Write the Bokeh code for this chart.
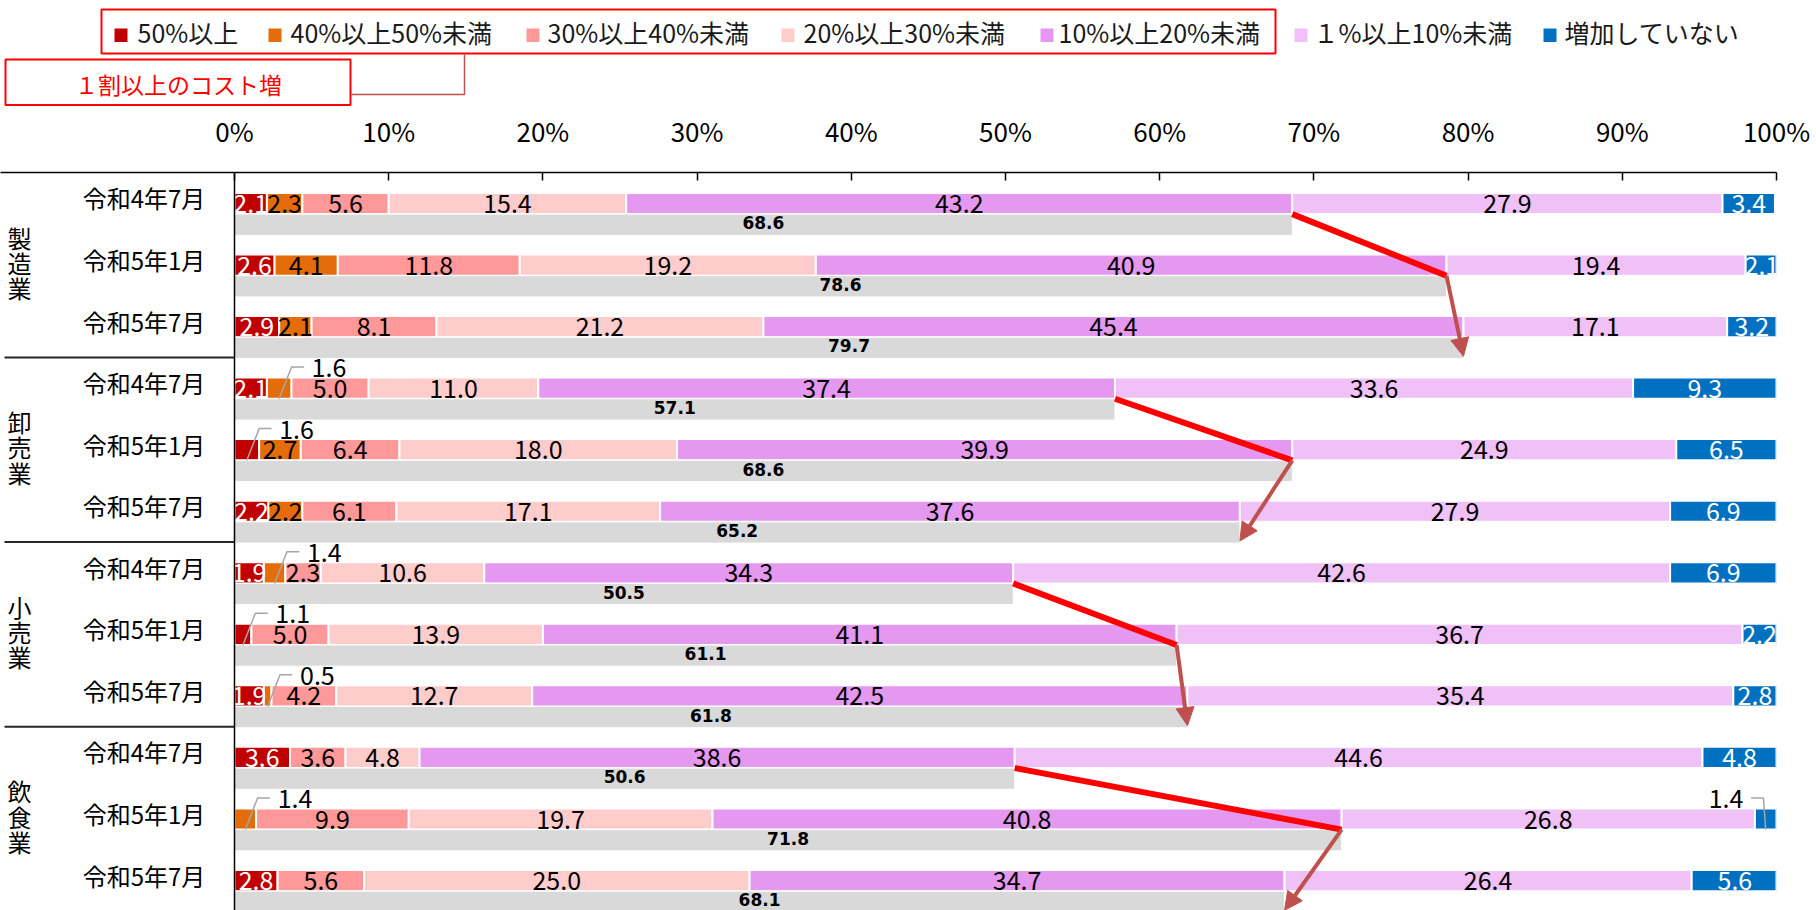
from bokeh.plotting import figure
from bokeh.layouts import column
from bokeh.models import Range1d, FixedTicker, ColumnDataSource, Span, Arrow, NormalHead
from bokeh.embed import file_html
from bokeh.resources import INLINE
from bokeh.core.properties import value

JP = "Noto Sans CJK JP"

# ---------------- data ----------------
groups = ["製造業", "卸売業", "小売業", "飲食業"]
periods = ["令和4年7月", "令和5年1月", "令和5年7月"]
categories = ["50%以上", "40%以上50%未満", "30%以上40%未満", "20%以上30%未満",
              "10%以上20%未満", "１%以上10%未満", "増加していない"]
colors = ["#C00000", "#E46C0A", "#FF9999", "#FFCCCC", "#E598EF", "#EFC1F6", "#0070C0"]
label_colors = ["white", "black", "black", "black", "black", "black", "white"]

s_50 = [2.1, 2.6, 2.9, 2.1, 1.6, 2.2, 1.9, 1.1, 1.9, 3.6, 0.0, 2.8]
s_40 = [2.3, 4.1, 2.1, 1.6, 2.7, 2.2, 1.4, 0.0, 0.5, 0.0, 1.4, 0.0]
s_30 = [5.6, 11.8, 8.1, 5.0, 6.4, 6.1, 2.3, 5.0, 4.2, 3.6, 9.9, 5.6]
s_20 = [15.4, 19.2, 21.2, 11.0, 18.0, 17.1, 10.6, 13.9, 12.7, 4.8, 19.7, 25.0]
s_10 = [43.2, 40.9, 45.4, 37.4, 39.9, 37.6, 34.3, 41.1, 42.5, 38.6, 40.8, 34.7]
s_1 = [27.9, 19.4, 17.1, 33.6, 24.9, 27.9, 42.6, 36.7, 35.4, 44.6, 26.8, 26.4]
s_none = [3.4, 2.1, 3.2, 9.3, 6.5, 6.9, 6.9, 2.2, 2.8, 4.8, 1.4, 5.6]
totals = [68.6, 78.6, 79.7, 57.1, 68.6, 65.2, 50.5, 61.1, 61.8, 50.6, 71.8, 68.1]

x_ticks = [0, 10, 20, 30, 40, 50, 60, 70, 80, 90, 100]
tick_labels = ["0%", "10%", "20%", "30%", "40%", "50%", "60%", "70%", "80%", "90%", "100%"]
box_label = "１割以上のコスト増"

series = [s_50, s_40, s_30, s_20, s_10, s_1, s_none]
n_rows = len(groups) * len(periods)
rows = list(range(n_rows))

# ---------------- geometry ----------------
W = 1816
TOP_H = 106                 # legend strip
MAIN_H = 910 - TOP_H
BORDER_TOP, BORDER_RIGHT = 66, 40
FRAME_W = W - BORDER_RIGHT
FRAME_H = MAIN_H - BORDER_TOP
ZERO_PX = 234
X_LEFT = -100.0 * ZERO_PX / (FRAME_W - ZERO_PX)
ROW_PX = 61.55
FIRST_ROW_PX = 31.0
Y_TOP = -FIRST_ROW_PX / ROW_PX
Y_BOTTOM = Y_TOP + FRAME_H / ROW_PX
BAR_H = 0.345


def sx(px):
    return X_LEFT + px * (100 - X_LEFT) / FRAME_W


# ---------------- legend strip ----------------
top = figure(width=W, height=TOP_H, output_backend="svg", toolbar_location=None,
             x_range=Range1d(0, FRAME_W), y_range=Range1d(TOP_H, 0),
             x_axis_location=None, y_axis_location=None,
             min_border_left=0, min_border_right=BORDER_RIGHT,
             min_border_top=0, min_border_bottom=0)
top.xgrid.visible = False
top.ygrid.visible = False
top.outline_line_color = None

leg_text_px = [137, 290, 547, 803, 1058, 1313, 1564]
leg_mark_px = [114, 268, 526, 781, 1040, 1294, 1543]
top.quad(left=leg_mark_px, right=[m + 13 for m in leg_mark_px],
         top=[28] * len(categories), bottom=[41.5] * len(categories),
         fill_color=colors, line_color=None)
top.text(x=leg_text_px, y=[31] * len(categories), text=categories,
         text_font=value(JP), text_font_size="25px", text_color="#1A1A1A",
         text_align="left", text_baseline="middle")
top.quad(left=[101, 5], right=[1275, 350], top=[9, 59], bottom=[53, 104.5],
         fill_color=None, line_color="#FF0000", line_width=2)
top.text(x=[178], y=[83], text=[box_label], text_font=value(JP),
         text_font_size="23px", text_color="#FF0000",
         text_align="center", text_baseline="middle")
top.line(x=[351, 464, 464], y=[94, 94, 54], line_color="#C0504D", line_width=1.5)

# ---------------- main chart ----------------
p = figure(width=W, height=MAIN_H, output_backend="svg", toolbar_location=None,
           x_range=Range1d(X_LEFT, 100), y_range=Range1d(Y_BOTTOM, Y_TOP),
           x_axis_location="above", y_axis_location=None,
           min_border_left=0, min_border_right=BORDER_RIGHT,
           min_border_top=BORDER_TOP, min_border_bottom=0)
p.xgrid.visible = False
p.ygrid.visible = False
p.outline_line_color = None

ax = p.xaxis[0]
ax.ticker = FixedTicker(ticks=x_ticks)
ax.major_label_overrides = {t: lab for t, lab in zip(x_ticks, tick_labels)}
ax.major_tick_in = 8
ax.major_tick_out = 0
ax.minor_tick_line_color = None
ax.axis_line_color = "black"
ax.axis_line_width = 1.5
ax.major_tick_line_color = "black"
ax.major_tick_line_width = 1.5
ax.major_label_text_font = JP
ax.major_label_text_font_size = "26px"
ax.major_label_text_color = "black"
ax.major_label_standoff = 24

# stacked bars
cum = [0.0] * n_rows
seg_x, seg_y, seg_t, seg_c = [], [], [], []
callouts = []
for c, (vals, col) in enumerate(zip(series, colors)):
    left = cum[:]
    right = [l + v for l, v in zip(left, vals)]
    src = ColumnDataSource(dict(y=rows, left=left, right=right))
    p.hbar(y="y", left="left", right="right", height=BAR_H, source=src,
           fill_color=col, line_color="white", line_width=2)
    for i, v in enumerate(vals):
        if v >= 1.8:
            seg_x.append((left[i] + right[i]) / 2)
            seg_y.append(i)
            seg_t.append(f"{v:.1f}")
            seg_c.append(label_colors[c])
        elif v > 0:
            callouts.append((i, (left[i] + right[i]) / 2, v))
    cum = right

# gray totals bars
gsrc = ColumnDataSource(dict(y=[r + BAR_H for r in rows], right=totals,
                             mid=[t / 2 for t in totals],
                             ty=[r + BAR_H - 0.03 for r in rows],
                             lab=[f"{t:.1f}" for t in totals]))
p.hbar(y="y", left=0, right="right", height=BAR_H, source=gsrc,
       fill_color="#D9D9D9", line_color="white", line_width=1)
p.text(x="mid", y="ty", text="lab", source=gsrc, text_font=value("DejaVu Sans"),
       text_font_style="bold", text_font_size="17px", text_color="black",
       text_align="center", text_baseline="middle")

# segment labels
lsrc = ColumnDataSource(dict(x=seg_x, y=seg_y, t=seg_t, c=seg_c))
p.text(x="x", y="y", text="t", text_color="c", source=lsrc, text_font=value(JP),
       text_font_size="25px", text_align="center", text_baseline="middle")

# callouts for small segments
lx_r, ly_r, lt_r, lx_l, ly_l, lt_l = [], [], [], [], [], []
xs, ys = [], []
for i, sc, v in callouts:
    d = -1 if sc > 90 else 1
    y0 = i + BAR_H / 2
    y1 = i - BAR_H / 2 - 0.17
    e = sc + d * (0.8 if d > 0 else 0.15)
    h_end = e + d * 0.8
    xs.append([sc, e, h_end])
    ys.append([y0, y1, y1])
    if d > 0:
        lx_r.append(h_end + 0.5); ly_r.append(y1 + 0.01); lt_r.append(f"{v:.1f}")
    else:
        lx_l.append(h_end - 0.5); ly_l.append(y1 + 0.01); lt_l.append(f"{v:.1f}")
p.multi_line(xs=xs, ys=ys, line_color="#A6A6A6", line_width=1.5)
p.text(x=lx_r, y=ly_r, text=lt_r, text_font=value(JP), text_font_size="25px",
       text_color="black", text_align="left", text_baseline="middle")
p.text(x=lx_l, y=ly_l, text=lt_l, text_font=value(JP), text_font_size="25px",
       text_color="black", text_align="right", text_baseline="middle")

# zero line
p.add_layout(Span(location=0, dimension="height", line_color="black", line_width=1.5))

# category labels (left)
p.text(x=[sx(143.5)] * n_rows, y=[r - 0.09 for r in rows],
       text=[periods[r % 3] for r in rows], text_font=value(JP),
       text_font_size="24px", text_color="black", text_align="center",
       text_baseline="middle")
gx, gy, gt = [], [], []
for g, name in enumerate(groups):
    for k, ch in enumerate(name):
        gx.append(sx(19))
        gy.append(3 * g + 1 - 0.045 + (k - 1) * 0.41)
        gt.append(ch)
p.text(x=gx, y=gy, text=gt, text_font=value(JP), text_font_size="24px",
       text_color="black", text_align="center", text_baseline="middle")
sep_y = [3 * g - 0.5 for g in range(1, len(groups))]
p.segment(x0=[sx(4)] * len(sep_y), x1=[0] * len(sep_y), y0=sep_y, y1=sep_y,
          line_color="#262626", line_width=2)

# trend arrows
for g in range(len(groups)):
    r0, r1, r2 = 3 * g, 3 * g + 1, 3 * g + 2
    p.add_layout(Arrow(end=None, x_start=totals[r0], y_start=r0 + BAR_H / 2,
                       x_end=totals[r1], y_end=r1 + BAR_H / 2,
                       line_color="#FF0000", line_width=6))
    p.add_layout(Arrow(end=NormalHead(size=18, fill_color="#C0504D", line_color="#C0504D"),
                       x_start=totals[r1], y_start=r1 + BAR_H / 2,
                       x_end=totals[r2], y_end=r2 + 1.4 * BAR_H,
                       line_color="#C0504D", line_width=4))

layout = column(top, p, spacing=0)
open("out.html", "w").write(file_html(layout, INLINE))
